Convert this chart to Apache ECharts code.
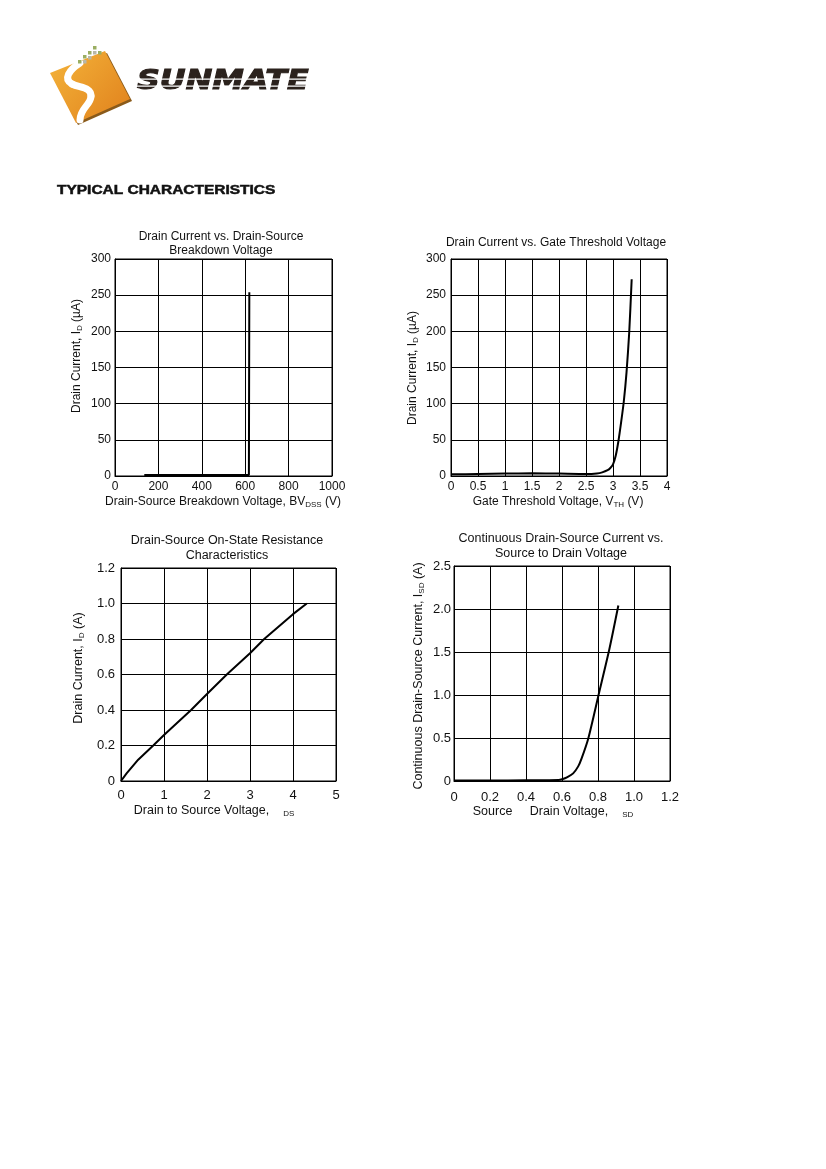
<!DOCTYPE html>
<html><head><meta charset="utf-8">
<script src="https://cdn.jsdelivr.net/npm/echarts@6/dist/echarts.min.js"></script>
<style>html,body{margin:0;padding:0;background:#fff}#c{width:826px;height:1169px}</style>
</head><body><div id="c"></div>
<script>
// ---- Chart 1: Drain Current vs. Drain-Source Breakdown Voltage ----
const bvX = [135, 617, 619];
const bvY = [1.5, 1.5, 254];
// ---- Chart 2: Drain Current vs. Gate Threshold Voltage ----
const vthX = [0, 0.5, 1.0, 1.5, 2.0, 2.5, 2.7, 2.8, 2.9, 2.95, 3.0, 3.05, 3.1, 3.15, 3.2, 3.25, 3.3, 3.346];
const vthY = [2.3, 2.8, 3.3, 3.7, 3.3, 2.8, 3.5, 5, 8, 11, 16, 28, 48, 74, 103, 143, 198, 272];
// ---- Chart 3: Drain-Source On-State Resistance ----
const vdsX = [0, 0.13, 0.4, 0.75, 1.0, 1.63, 2.0, 2.46, 3.0, 3.33, 4.0, 4.32];
const vdsY = [0, 0.043, 0.12, 0.2, 0.259, 0.4, 0.49, 0.6, 0.72, 0.8, 0.94, 1.0];
// ---- Chart 4: Continuous Drain-Source Current vs. Source to Drain Voltage ----
const vsdX = [0, 0.2, 0.4, 0.58, 0.6, 0.63, 0.662, 0.69, 0.709, 0.746, 0.805, 0.863, 0.913];
const vsdY = [0.005, 0.005, 0.008, 0.012, 0.02, 0.045, 0.089, 0.17, 0.263, 0.495, 1.018, 1.532, 2.04];

const FONT = "'Liberation Sans', Arial, sans-serif";
const pts = (xs, ys) => xs.map((x, i) => [x, ys[i]]);
const fmt1 = v => (Math.abs(v) < 1e-9 ? '0' : (+v).toFixed(1));
const fmtG = v => String(+(+v).toFixed(2));

const grids = [
  {left: 115, top: 259, width: 217, height: 217},
  {left: 451, top: 259, width: 216, height: 217},
  {left: 121, top: 568, width: 215, height: 213},
  {left: 454, top: 566, width: 216, height: 215}
].map(g => Object.assign(g, {show: true, borderColor: '#000', borderWidth: 1, containLabel: false}));

function xAx(i, min, max, interval, f, fs, margin) {
  return {gridIndex: i, type: 'value', min, max, interval,
    axisLine: {show: true, lineStyle: {color: '#000', width: 1}},
    axisTick: {show: false},
    splitLine: {show: true, lineStyle: {color: '#000', width: 1}},
    axisLabel: {formatter: f, color: '#111', fontSize: fs, fontFamily: FONT, margin}};
}
const yAx = xAx;

const xAxes = [
  xAx(0, 0, 1000, 200, fmtG, 12, 5),
  xAx(1, 0, 4, 0.5, fmtG, 12, 5),
  xAx(2, 0, 5, 1, fmtG, 13, 8),
  xAx(3, 0, 1.2, 0.2, fmt1, 13, 10)
];
const yAxes = [
  yAx(0, 0, 300, 50, fmtG, 12, 4),
  yAx(1, 0, 300, 50, fmtG, 12, 5),
  yAx(2, 0, 1.2, 0.2, fmt1, 13, 6),
  yAx(3, 0, 2.5, 0.5, fmt1, 13, 3)
];

function ser(i, data, smooth) {
  return {type: 'line', xAxisIndex: i, yAxisIndex: i, data, showSymbol: false,
    smooth: smooth, silent: true,
    lineStyle: {color: '#000', width: 2}};
}

const rich12 = {
  a: {fontSize: 12, fontFamily: FONT, color: '#111'},
  s: {fontSize: 8, fontFamily: FONT, color: '#111', verticalAlign: 'bottom', padding: [5, 0, 0, 0]}
};
const rich13 = {
  a: {fontSize: 12.5, fontFamily: FONT, color: '#111'},
  s: {fontSize: 8, fontFamily: FONT, color: '#111', verticalAlign: 'bottom', padding: [5, 0, 0, 0]}
};
function label(x, y, text, rich, rot) {
  return {type: 'text', x, y, rotation: rot ? Math.PI / 2 : 0, silent: true,
    style: {text, rich, align: 'center', verticalAlign: 'middle', fill: '#111', font: '12px ' + FONT}};
}
function title(x, y, text, fs, lh) {
  return {type: 'text', x, y, silent: true,
    style: {text, align: 'center', verticalAlign: 'middle', fill: '#111', fontSize: fs, fontFamily: FONT, lineHeight: lh}};
}

const sCurves = [
  [80, 63, 69, 70, 63, 79, 72, 84],
  [72, 84, 80, 88, 91, 87, 91, 96],
  [91, 96, 91, 105, 80, 108, 80, 120]
];
const logo = [
  {type: 'polygon', shape: {points: [[52, 75], [107, 53], [132, 101], [78, 125]]}, style: {fill: '#8a5a1a'}, silent: true},
  {type: 'polygon', shape: {points: [[50, 73], [105, 51], [130, 99], [76, 123]]}, silent: true,
    style: {fill: {type: 'linear', x: 0, y: 0, x2: 1, y2: 1, colorStops: [{offset: 0, color: '#f4b43a'}, {offset: 1, color: '#e0801c'}]}}},
  ...sCurves.map(c => ({type: 'bezierCurve', silent: true,
    shape: {x1: c[0], y1: c[1], cpx1: c[2], cpy1: c[3], cpx2: c[4], cpy2: c[5], x2: c[6], y2: c[7]},
    style: {stroke: '#fff', lineWidth: 7, fill: null, lineCap: 'round'}})),
  ...[[93, 46, '#9aae62'], [88, 51, '#9aae62'], [93, 51, '#b8b8a8'], [83, 55, '#9aae62'], [88, 56, '#b8b8a8'], [78, 60, '#9aae62'], [83, 60, '#b8b8a8'], [98, 51, '#9aae62']]
    .map(([x, y, c]) => ({type: 'rect', silent: true, shape: {x, y, width: 3.5, height: 3.5}, style: {fill: c}})),
  {type: 'text', x: 137, y: 82, scaleX: 1.27, scaleY: 1.05, silent: true,
    style: {text: 'SUNMATE', fill: '#2b221d', stroke: '#2b221d', lineWidth: 1, fontSize: 25, fontWeight: 900, fontStyle: 'italic', fontFamily: "'DejaVu Sans', sans-serif", align: 'left', verticalAlign: 'middle'}},
  {type: 'rect', silent: true, shape: {x: 136, y: 78.5, width: 175, height: 1.3}, style: {fill: '#fff'}},
  {type: 'rect', silent: true, shape: {x: 136, y: 85.5, width: 175, height: 1.3}, style: {fill: '#fff'}}
];

const graphics = [
  ...logo,
  {type: 'text', x: 57, y: 190, scaleX: 1.19, silent: true,
    style: {text: 'TYPICAL CHARACTERISTICS', fill: '#111', stroke: '#111', lineWidth: 0.5, fontSize: 13, fontWeight: 'bold', fontFamily: FONT, align: 'left', verticalAlign: 'middle'}},
  title(221, 244, 'Drain Current vs. Drain-Source\nBreakdown Voltage', 12, 14),
  title(556, 243, 'Drain Current vs. Gate Threshold Voltage', 12, 14),
  title(227, 548, 'Drain-Source On-State Resistance\nCharacteristics', 12.5, 15),
  title(561, 546, 'Continuous Drain-Source Current vs.\nSource to Drain Voltage', 12.5, 15),
  label(223, 502, '{a|Drain-Source Breakdown Voltage, BV}{s|DSS}{a| (V)}', rich12, false),
  label(558, 502, '{a|Gate Threshold Voltage, V}{s|TH}{a| (V)}', rich12, false),
  label(214, 811, '{a|Drain to Source Voltage,    }{s|DS}', rich13, false),
  label(553, 812, '{a|Source     Drain Voltage,    }{s|SD}', rich13, false),
  label(77, 356, '{a|Drain Current, I}{s|D}{a| (µA)}', rich12, true),
  label(413, 368, '{a|Drain Current, I}{s|D}{a| (µA)}', rich12, true),
  label(79, 668, '{a|Drain Current, I}{s|D}{a| (A)}', rich13, true),
  label(419, 676, '{a|Continuous Drain-Source Current, I}{s|SD}{a| (A)}', rich13, true)
];

const chart = echarts.init(document.getElementById('c'), null, {renderer: 'canvas'});
chart.setOption({
  animation: false,
  backgroundColor: '#fff',
  grid: grids,
  xAxis: xAxes,
  yAxis: yAxes,
  series: [
    ser(0, pts(bvX, bvY), false),
    ser(1, pts(vthX, vthY), 0.25),
    ser(2, pts(vdsX, vdsY), false),
    ser(3, pts(vsdX, vsdY), 0.25)
  ],
  graphic: graphics
});
</script></body></html>
